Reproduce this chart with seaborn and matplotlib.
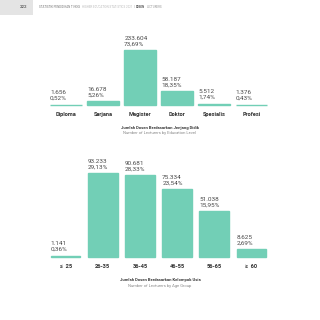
import matplotlib
matplotlib.use("Agg")
import matplotlib.pyplot as plt
import seaborn as sns
import pandas as pd

# ---- data ----
edu_categories = ["Diploma", "Sarjana", "Magister", "Doktor", "Spesialis", "Profesi"]
edu_values = [1656, 16678, 233604, 58187, 5512, 1376]
edu_value_labels = ["1.656", "16.678", "233.604", "58.187", "5.512", "1.376"]
edu_pct_labels = ["0,52%", "5,26%", "73,69%", "18,35%", "1,74%", "0,43%"]

age_categories = ["≤  25", "26-35", "36-45", "46-55", "56-65", "≥  60"]
age_values = [1141, 93233, 90681, 75334, 51038, 8625]
age_value_labels = ["1.141", "93.233", "90.681", "75.334", "51.038", "8.625"]
age_pct_labels = ["0,36%", "29,13%", "28,33%", "23,54%", "15,95%", "2,69%"]

edu_title = "Jumlah Dosen Berdasarkan Jenjang Didik"
edu_subtitle = "Number of Lecturers by Education Level"
age_title = "Jumlah Dosen Berdasarkan Kelompok Usia"
age_subtitle = "Number of Lecturers by Age Group"

header_parts = [
    ("STATISTIK PENDIDIKAN TINGGI", "#777777", "normal"),
    ("HIGHER EDUCATION STATISTICS 2021", "#bbbbbb", "normal"),
    ("|", "#999999", "normal"),
    ("DOSEN", "#555555", "bold"),
    ("LECTURERS", "#999999", "normal"),
]

BAR = "#72cfb6"
TXT = "#4a4a4a"

sns.set_theme(style="white")
plt.rcParams["font.family"] = ["Roboto", "DejaVu Sans"]

W = H = 320
fig = plt.figure(figsize=(3.2, 3.2), dpi=100)
fig.patch.set_facecolor("white")
renderer = fig.canvas.get_renderer()


def px_axes(left, top, right, bottom):
    return fig.add_axes([left / W, 1 - bottom / H, (right - left) / W, (bottom - top) / H])


# header
hdr = px_axes(0, 0, 320, 16)
hdr.set_xlim(0, 320)
hdr.set_ylim(16, 0)
hdr.axis("off")
hdr.add_patch(plt.Rectangle((0, 0), 33, 15, color="#e4e4e4", lw=0))
hdr.text(27, 7.5, "222", fontsize=3.2, color="#666666", ha="right", va="center", fontweight="bold")
x = 39.0
for txt, col, wt in header_parts:
    t = hdr.text(x, 7.5, txt, fontsize=2.1, color=col, va="center", fontweight=wt)
    bb = t.get_window_extent(renderer=renderer)
    x += bb.width + 1.5


def draw_chart(ax, cats, vals, vlabels, plabels, width, max_px, head_px, title, subtitle, title_y, sub_y):
    df = pd.DataFrame({"cat": cats, "val": vals})
    sns.barplot(data=df, x="cat", y="val", color=BAR, saturation=1, width=width, ax=ax,
                edgecolor=BAR, linewidth=1.0)
    for p in ax.patches:
        p.set_clip_on(False)
    ax.set_xlim(-0.5, len(cats) - 0.5)
    vmax = max(vals)
    ax.set_ylim(0, vmax * head_px / max_px)
    for i, (v, a, b) in enumerate(zip(vals, vlabels, plabels)):
        ax.annotate(f"{a}\n{b}", xy=(i - width / 2, v), xytext=(0, 2.8), textcoords="offset points",
                    ha="left", va="bottom", fontsize=4.6, color=TXT, linespacing=1.15)
    ax.set_xlabel("")
    ax.set_ylabel("")
    ax.set_yticks([])
    ax.tick_params(axis="x", length=0, pad=5)
    for lab in ax.get_xticklabels():
        lab.set_fontsize(4.1)
        lab.set_fontweight("bold")
        lab.set_color("#333333")
    sns.despine(ax=ax, left=True, bottom=True, top=True, right=True)
    fig.text(160 / W, 1 - title_y / H, title, fontsize=3.0, fontweight="bold", color="#333333",
             ha="center", va="center")
    fig.text(160 / W, 1 - sub_y / H, subtitle, fontsize=3.0, color="#888888", ha="center", va="center")


ax1 = px_axes(47.5, 25, 270, 105)
draw_chart(ax1, edu_categories, edu_values, edu_value_labels, edu_pct_labels, 0.86, 55, 80,
           edu_title, edu_subtitle, 127.5, 133)

ax2 = px_axes(47, 145, 270, 257)
draw_chart(ax2, age_categories, age_values, age_value_labels, age_pct_labels, 0.80, 84, 112,
           age_title, age_subtitle, 280, 285.5)

fig.savefig("out.png", dpi=100, facecolor="white")
